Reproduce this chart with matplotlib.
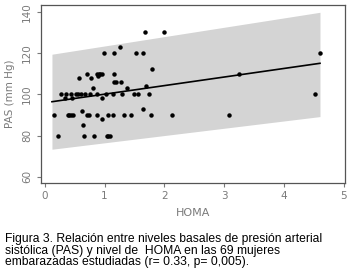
import numpy as np
import matplotlib.pyplot as plt

# HOMA (x) vs PAS (mm Hg)
homa = [0.15, 0.22, 0.27, 0.34, 0.36, 0.39, 0.41, 0.43, 0.43, 0.46, 0.47,
        0.53, 0.56, 0.58, 0.60, 0.63, 0.64, 0.65, 0.67, 0.70, 0.71, 0.74,
        0.76, 0.77, 0.80, 0.82, 0.87, 0.88, 0.88, 0.89, 0.91, 0.93, 0.95,
        0.95, 0.96, 0.99, 1.02, 1.04, 1.06, 1.06, 1.09, 1.14, 1.14, 1.15,
        1.16, 1.16, 1.19, 1.26, 1.27, 1.29, 1.33, 1.37, 1.44, 1.49, 1.52,
        1.55, 1.64, 1.65, 1.68, 1.70, 1.74, 1.78, 1.80, 1.99, 2.12, 3.08,
        3.25, 4.51, 4.60]
pas = [90, 80, 100, 98, 100, 90, 90, 100, 90, 98, 90,
       100, 100, 108, 100, 92, 85, 80, 100, 110, 90, 90,
       100, 108, 103, 80, 100, 90, 110, 109, 110, 110, 98,
       88, 110, 120, 100, 80, 80, 90, 80, 100, 90, 106,
       120, 110, 106, 123, 106, 100, 90, 103, 90, 100, 120,
       100, 93, 120, 130, 104, 100, 90, 112, 130, 90, 90,
       110, 100, 120]

# regression line and prediction band (endpoints)
fit_x = [0.12, 4.60]
fit_y = [96.4, 115.0]
band_lo = [73.4, 89.2]
band_hi = [119.4, 139.7]

xticks = [0, 1, 2, 3, 4, 5]
yticks = [60, 80, 100, 120, 140]

caption = ("Figura 3. Relación entre niveles basales de presión arterial\n"
           "sistólica (PAS) y nivel de  HOMA en las 69 mujeres\n"
           "embarazadas estudiadas (r= 0.33, p= 0,005).")

gray = "#7a7a7a"
fig = plt.figure(figsize=(3.5, 2.77), dpi=100)
ax = fig.add_axes([0.116, 0.339, 0.870, 0.642])

ax.fill_between(fit_x, band_lo, band_hi, color="#d4d4d4", linewidth=0)
ax.plot(fit_x, fit_y, color="black", linewidth=1.2)
ax.plot(homa, pas, "o", color="black", markersize=2.2)

ax.set_xlim(-0.07, 5.02)
ax.set_ylim(57, 143.1)
ax.set_xticks(xticks)
ax.set_yticks(yticks)
ax.set_yticklabels([str(t) for t in yticks], rotation=90, va="center")
ax.tick_params(colors=gray, labelsize=7.5, length=3, width=0.8, pad=3)
for s in ax.spines.values():
    s.set_color("#555555")
    s.set_linewidth(0.9)

ax.set_xlabel("HOMA", color=gray, fontsize=8, labelpad=5)
ax.set_ylabel("PAS (mm Hg)", color=gray, fontsize=7.5, labelpad=5)

fig.text(0.014, 0.158, caption, fontsize=8.7, family="Liberation Sans",
         va="top", ha="left", linespacing=0.95)

fig.savefig("out.png", dpi=100)
